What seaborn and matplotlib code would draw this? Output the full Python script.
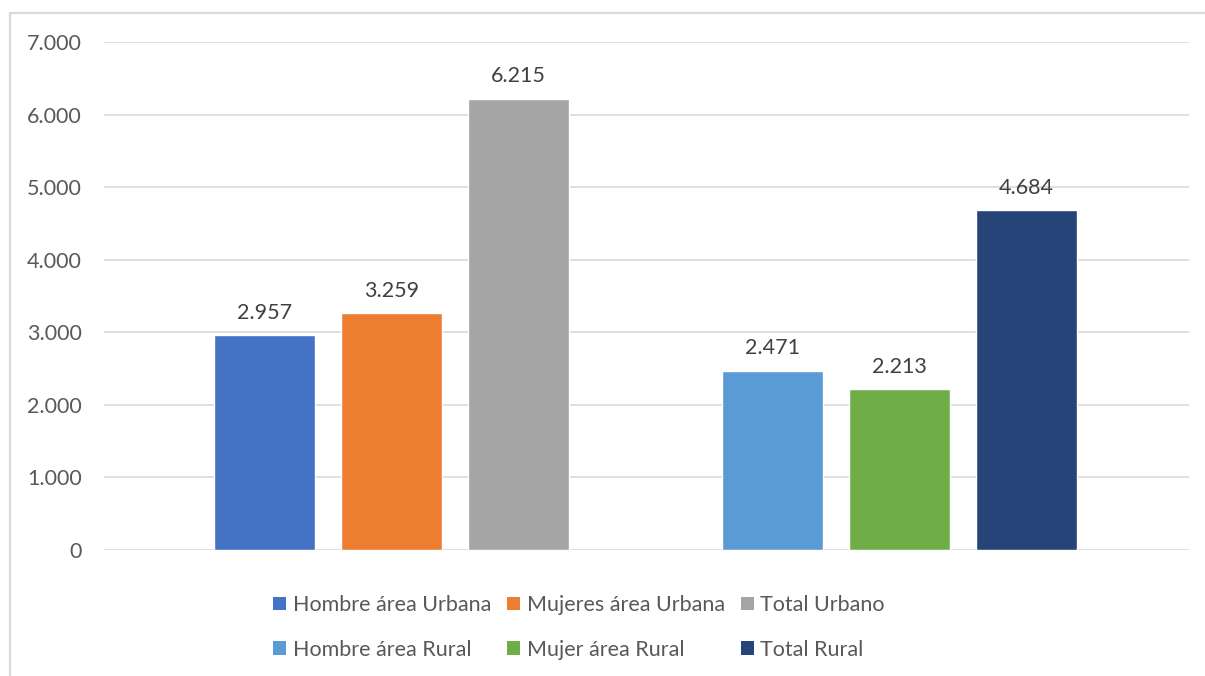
import matplotlib
matplotlib.use("Agg")
import matplotlib.pyplot as plt
import seaborn as sns
import pandas as pd
from matplotlib.patches import Patch, Rectangle

# Datos
series = ["Hombre área Urbana", "Mujeres área Urbana", "Total Urbano",
          "Hombre área Rural", "Mujer área Rural", "Total Rural"]
valores = [2957, 3259, 6215, 2471, 2213, 4684]
colores = ["#4472C4", "#ED7D31", "#A5A5A5", "#5B9BD5", "#70AD47", "#264478"]
yticks = [0, 1000, 2000, 3000, 4000, 5000, 6000, 7000]

def miles(v):
    return f"{int(v):,}".replace(",", ".")

df = pd.DataFrame({"serie": series, "valor": valores})
paleta = dict(zip(series, colores))
# hueco entre el grupo urbano y el rural
orden = series[:3] + [" "] + series[3:]

sns.set_style("white")
plt.rcParams["font.family"] = ["Lato", "DejaVu Sans"]

fig = plt.figure(figsize=(12.05, 6.76), dpi=100)
ax = fig.add_axes([104 / 1205, 1 - 550 / 676, (1189 - 104) / 1205, (550 - 42) / 676])

sns.barplot(data=df, x="serie", y="valor", hue="serie", order=orden,
            palette=paleta, width=0.795, legend=False, ax=ax, saturation=1)

for cont in ax.containers:
    ax.bar_label(cont, labels=[miles(b.get_height()) for b in cont],
                 padding=9, fontsize=15.5, color="#404040")

ax.set_ylim(0, 7000)
ax.set_xlim(-1.264, 7.28)
ax.set_yticks(yticks)
ax.set_yticklabels([miles(v) for v in yticks])
ax.set_xticks([])
ax.set_xlabel("")
ax.set_ylabel("")
ax.tick_params(axis="y", length=0, pad=16, labelsize=15.5, labelcolor="#595959")
ax.yaxis.grid(True, color="#D9D9D9", linewidth=1.2)
ax.set_axisbelow(True)
sns.despine(ax=ax, left=True, right=True, top=True, bottom=True)

# Leyenda en dos filas de tres (matplotlib llena por columnas)
handles = [Patch(facecolor=c, edgecolor="none") for c in colores]
idx = [0, 3, 1, 4, 2, 5]
fig.legend([handles[i] for i in idx], [series[i] for i in idx],
           loc="center", bbox_to_anchor=(579 / 1205, 1 - 627.5 / 676),
           ncol=3, frameon=False, fontsize=15.5, labelcolor="#595959",
           handlelength=0.6, handleheight=0.6, handletextpad=0.3,
           columnspacing=0.75, labelspacing=1.15)

# Marco del gráfico
fig.patches.append(Rectangle((10 / 1205, -0.02), 1.0, 1 - 13 / 676 + 0.02,
                             transform=fig.transFigure, fill=False,
                             edgecolor="#D9D9D9", linewidth=1.6))

fig.savefig("out.png", dpi=100)
plt.close(fig)
